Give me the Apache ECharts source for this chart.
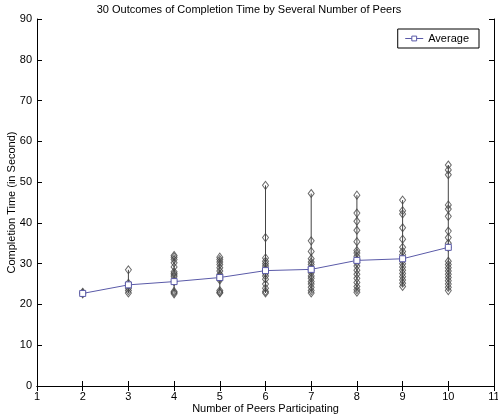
<!DOCTYPE html>
<html>
<head>
<meta charset="utf-8">
<script src="https://cdn.jsdelivr.net/npm/echarts@6/dist/echarts.min.js"></script>
<style>
  html, body { margin: 0; padding: 0; background: #fff; }
  #chart { width: 498px; height: 417px; }
</style>
</head>
<body>
<div id="chart"></div>
<script>
// number of peers on x, completion time outcomes (s) per peer count
const peers = [2, 3, 4, 5, 6, 7, 8, 9, 10];
const outcomes2 = [22.6, 22.8, 23.0];
const outcomes3 = [28.5, 25.2, 24.6, 24.0, 23.4, 22.8];
const outcomes4 = [32.0, 31.6, 31.0, 30.2, 29.2, 28.0, 27.6, 27.2, 26.8, 25.6, 23.2, 22.9, 22.6];
const outcomes5 = [31.6, 31.0, 30.4, 29.8, 29.0, 28.2, 27.4, 27.0, 26.4, 26.0, 23.4, 23.0, 22.8];
const outcomes6 = [49.2, 36.4, 31.4, 30.6, 30.0, 29.4, 28.8, 28.2, 27.6, 27.0, 26.2, 25.0, 24.0, 23.2, 22.8];
const outcomes7 = [47.2, 35.6, 33.0, 31.2, 30.4, 29.8, 29.0, 28.4, 27.8, 27.0, 26.4, 25.6, 25.0, 24.2, 23.4, 22.8];
const outcomes8 = [46.8, 42.4, 40.4, 38.2, 35.4, 33.2, 32.6, 31.8, 31.0, 30.2, 29.4, 28.4, 27.4, 26.4, 25.4, 24.4, 23.6, 23.0];
const outcomes9 = [45.6, 43.0, 42.2, 38.8, 36.0, 34.0, 33.0, 32.2, 31.4, 30.8, 30.0, 29.2, 28.4, 27.6, 26.8, 26.0, 25.2, 24.4];
const outcomes10 = [54.2, 53.0, 51.8, 44.4, 43.4, 41.6, 38.0, 36.4, 35.0, 34.0, 30.6, 29.8, 29.0, 28.2, 27.4, 26.6, 25.8, 25.0, 24.2, 23.4];
const averages = [22.7, 24.8, 25.6, 26.6, 28.3, 28.6, 30.8, 31.2, 34.0];
const xTicks = [1, 2, 3, 4, 5, 6, 7, 8, 9, 10, 11];
const yTicks = [0, 10, 20, 30, 40, 50, 60, 70, 80, 90];

const columns = [outcomes2, outcomes3, outcomes4, outcomes5, outcomes6,
  outcomes7, outcomes8, outcomes9, outcomes10];

const points = [];
const ranges = [];
columns.forEach((col, i) => {
  col.forEach((v) => points.push([peers[i], v]));
  ranges.push([peers[i], Math.min(...col), Math.max(...col)]);
});

const font = "Liberation Sans";
const chart = echarts.init(document.getElementById("chart"));

const boxAxis = {
  axisLine: { show: true, lineStyle: { color: "#000", width: 1 } },
  axisTick: { show: true, inside: true, length: 5, lineStyle: { color: "#000" } },
  splitLine: { show: false },
};

chart.setOption({
  animation: false,
  title: {
    text: "30 Outcomes of Completion Time by Several Number of Peers",
    left: "center",
    top: -1,
    textStyle: { fontFamily: font, fontSize: 11, fontWeight: "normal", color: "#000" },
  },
  legend: {
    data: ["Average"],
    right: 19,
    top: 29,
    orient: "vertical",
    backgroundColor: "#fff",
    borderColor: "#000",
    borderWidth: 1,
    borderRadius: 0,
    padding: [4, 10, 4, 7],
    itemWidth: 18,
    itemHeight: 6,
    itemGap: 6,
    lineStyle: { width: 1 },
    itemStyle: { borderWidth: 1 },
    textStyle: { fontFamily: font, fontSize: 11, color: "#000" },
  },
  grid: { left: 37, right: 4, top: 19, bottom: 31, outerBoundsMode: "none" },
  xAxis: [
    {
      ...boxAxis,
      type: "value",
      min: xTicks[0],
      max: xTicks[xTicks.length - 1],
      interval: 1,
      name: "Number of Peers Participating",
      nameLocation: "middle",
      nameGap: 17,
      nameMoveOverlap: false,
      nameTextStyle: { fontFamily: font, fontSize: 11, color: "#000" },
      axisLabel: { fontFamily: font, fontSize: 11, color: "#000", margin: 5 },
    },
    {
      ...boxAxis,
      type: "value",
      position: "top",
      min: xTicks[0],
      max: xTicks[xTicks.length - 1],
      interval: 1,
      axisLabel: { show: false },
    },
  ],
  yAxis: [
    {
      ...boxAxis,
      type: "value",
      min: yTicks[0],
      max: yTicks[yTicks.length - 1],
      interval: 10,
      name: "Completion Time (in Second)",
      nameLocation: "middle",
      nameGap: 20,
      nameMoveOverlap: false,
      nameTextStyle: { fontFamily: font, fontSize: 11, color: "#000" },
      axisLabel: { fontFamily: font, fontSize: 11, color: "#000", margin: 5 },
    },
    {
      ...boxAxis,
      type: "value",
      position: "right",
      min: yTicks[0],
      max: yTicks[yTicks.length - 1],
      interval: 10,
      axisLabel: { show: false },
    },
  ],
  series: [
    {
      name: "range",
      type: "custom",
      silent: true,
      data: ranges,
      renderItem: (params, api) => {
        const lo = api.coord([api.value(0), api.value(1)]);
        const hi = api.coord([api.value(0), api.value(2)]);
        return {
          type: "line",
          shape: { x1: lo[0], y1: lo[1], x2: hi[0], y2: hi[1] },
          style: { stroke: "#444", lineWidth: 1 },
        };
      },
      z: 1,
    },
    {
      name: "outcomes",
      type: "scatter",
      data: points,
      symbol: "diamond",
      symbolSize: [6, 8],
      itemStyle: { color: "rgba(255,255,255,0)", borderColor: "#444", borderWidth: 1, opacity: 0.8 },
      z: 2,
    },
    {
      name: "Average",
      type: "line",
      data: peers.map((p, i) => [p, averages[i]]),
      symbol: "rect",
      symbolSize: 6,
      showSymbol: true,
      lineStyle: { color: "#5a5aa8", width: 1 },
      itemStyle: { color: "#fff", borderColor: "#5a5aa8", borderWidth: 1 },
      z: 3,
    },
  ],
});
</script>
</body>
</html>
